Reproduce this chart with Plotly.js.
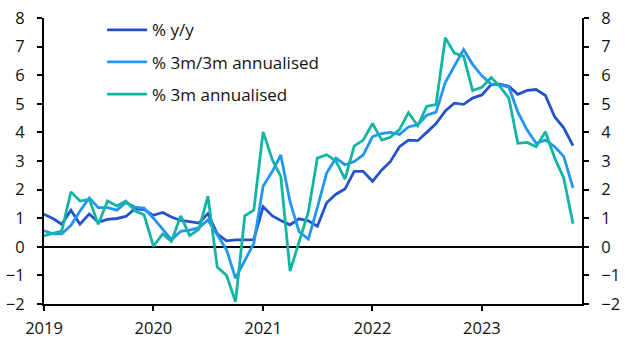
<!DOCTYPE html>
<html>
<head>
<meta charset="utf-8">
<script src="https://cdn.plot.ly/plotly-3.0.1.min.js"></script>
<style>html,body{margin:0;padding:0;background:#fff;}#chart{width:634px;height:355px;}</style>
</head>
<body>
<div id="chart"></div>
<script>
const months = [
 '2019-01','2019-02','2019-03','2019-04','2019-05','2019-06','2019-07','2019-08','2019-09','2019-10','2019-11','2019-12',
 '2020-01','2020-02','2020-03','2020-04','2020-05','2020-06','2020-07','2020-08','2020-09','2020-10','2020-11','2020-12',
 '2021-01','2021-02','2021-03','2021-04','2021-05','2021-06','2021-07','2021-08','2021-09','2021-10','2021-11','2021-12',
 '2022-01','2022-02','2022-03','2022-04','2022-05','2022-06','2022-07','2022-08','2022-09','2022-10','2022-11','2022-12',
 '2023-01','2023-02','2023-03','2023-04','2023-05','2023-06','2023-07','2023-08','2023-09','2023-10','2023-11'
];
const yy = [
 1.14,0.98,0.79,1.28,0.79,1.15,0.86,0.96,0.99,1.06,1.33,1.30,
 1.10,1.20,1.04,0.92,0.88,0.83,1.16,0.45,0.21,0.24,0.24,0.25,
 1.40,1.08,0.92,0.77,0.98,0.91,0.72,1.54,1.84,2.02,2.64,2.64,
 2.29,2.69,2.97,3.50,3.73,3.71,4.00,4.31,4.75,5.02,4.98,5.20,
 5.31,5.67,5.69,5.61,5.33,5.47,5.50,5.29,4.54,4.16,3.54
];
const m3m3 = [
 0.56,0.45,0.45,0.75,1.25,1.71,1.37,1.37,1.28,1.54,1.39,1.35,
 1.00,0.60,0.25,0.54,0.58,0.67,0.94,0.42,-0.10,-1.10,-0.50,0.12,
 2.12,2.64,3.21,1.57,0.53,0.27,1.37,2.58,3.10,2.87,2.98,3.21,
 3.85,3.96,4.00,3.93,4.19,4.27,4.60,4.71,5.75,6.33,6.90,6.38,
 5.98,5.69,5.66,5.58,4.71,4.08,3.62,3.73,3.50,3.16,2.06
];
const m3ann = [
 0.39,0.47,0.55,1.92,1.60,1.66,0.79,1.60,1.43,1.60,1.25,1.12,
 0.02,0.45,0.19,1.08,0.39,0.62,1.77,-0.71,-1.00,-1.92,1.08,1.28,
 4.02,3.04,2.46,-0.85,0.15,1.22,3.10,3.22,3.00,2.37,3.52,3.73,
 4.31,3.73,3.83,4.10,4.69,4.23,4.91,4.97,7.31,6.77,6.67,5.46,
 5.58,5.92,5.62,5.20,3.62,3.65,3.50,4.02,3.10,2.41,0.81
];
const seriesNames = ['% y/y','% 3m/3m annualised','% 3m annualised'];
const seriesColors = ['#2452C8','#2196F3','#14B4A4'];
const seriesAxes = ['y','y','y2'];
const yearTicks = ['2019-01-01','2020-01-01','2021-01-01','2022-01-01','2023-01-01'];
const yearLabels = ['2019','2020','2021','2022','2023'];

const FONT = 'Open Sans, sans-serif';
const data = [yy, m3m3, m3ann].map((vals, i) => ({
  x: months, y: vals, type: 'scatter', mode: 'lines',
  yaxis: seriesAxes[i],
  name: seriesNames[i], legendgroup: 'g' + i,
  line: {color: seriesColors[i], width: 2.8},
  hoverinfo: 'skip'
}));

const axisCommon = {
  showline: true, linecolor: '#000', linewidth: 2,
  ticks: 'outside', ticklen: 5, tickwidth: 2, tickcolor: '#000',
  showgrid: false, tickfont: {family: FONT, size: 16.5, color: '#111'}
};

const layout = {
  width: 634, height: 355,
  margin: {l: 44, r: 52, t: 15, b: 51},
  paper_bgcolor: '#fff', plot_bgcolor: '#fff',
  showlegend: true,
  legend: {x: 0.108, y: 1.02, xanchor: 'left', yanchor: 'top',
           bgcolor: 'rgba(0,0,0,0)', font: {family: FONT, size: 17, color: '#111'},
           tracegroupgap: 7, traceorder: 'grouped', itemwidth: 40},
  xaxis: Object.assign({}, axisCommon, {
    type: 'date', range: ['2019-01-01', '2023-12-01'],
    tickvals: yearTicks, ticktext: yearLabels, zeroline: false,
    ticklabelstandoff: 3
  }),
  yaxis: Object.assign({}, axisCommon, {
    range: [-2, 8], dtick: 1, tick0: 0,
    zeroline: true, zerolinecolor: '#000', zerolinewidth: 2,
    ticklabelstandoff: 9
  }),
  yaxis2: Object.assign({}, axisCommon, {
    range: [-2, 8], dtick: 1, tick0: 0, overlaying: 'y', side: 'right',
    zeroline: false, ticklabelstandoff: 9
  })
};

Plotly.newPlot('chart', data, layout, {displayModeBar: false, staticPlot: true});
</script>
</body>
</html>
